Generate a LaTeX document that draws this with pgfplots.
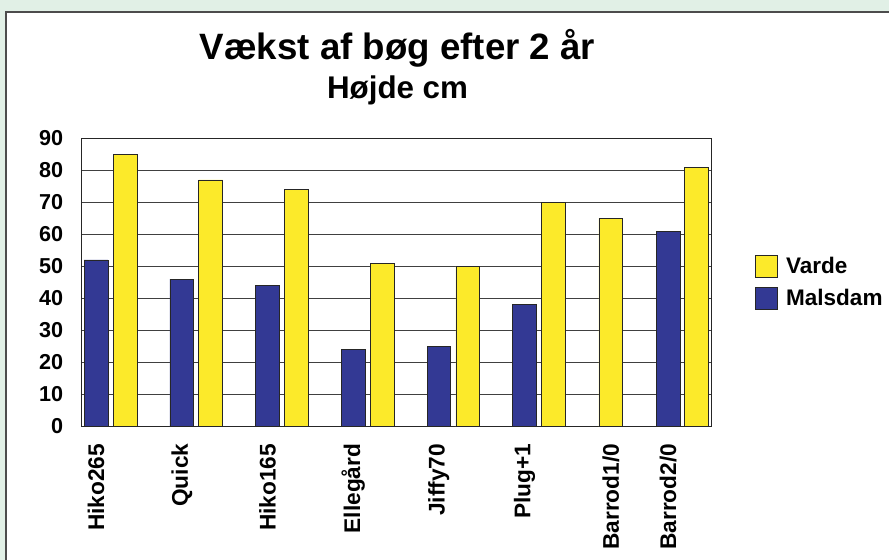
\documentclass[border=0pt]{standalone}
\usepackage{fontspec}
\setmainfont{Liberation Sans}
\usepackage{pgfplots}
\pgfplotsset{compat=1.18}
\definecolor{bggreen}{RGB}{225,240,230}
\definecolor{vyellow}{RGB}{252,234,42}
\definecolor{mblue}{RGB}{51,57,148}
\begin{document}
\begin{tikzpicture}
\clip (0,0) rectangle (666.75pt,420pt);
\fill[bggreen] (0,0) rectangle (666.75pt,420pt);
\filldraw[fill=white, draw=black!70, line width=1pt] (4.5pt,-10pt) rectangle (690pt,411pt);
\begin{axis}[
  at={(61pt,100.1pt)}, anchor=south west,
  scale only axis, width=472.3pt, height=216.2pt,
  xmin=-0.172, xmax=7.176, ymin=0, ymax=90,
  ytick={0,10,...,90},
  xtick={0,1,2,3,4,5,6.006,6.674},
  xticklabels={Hiko265,Quick,Hiko165,Ellegård,Jiffy70,Plug+1,Barrod1/0,Barrod2/0},
  /pgf/number format/assume math mode=true,
  ymajorgrids, major grid style={black!75, line width=0.75pt},
  axis line style={black!85, line width=0.75pt},
  tick style={draw=none},
  yticklabel style={font=\fontsize{16.2}{18}\selectfont\bfseries, anchor=east, inner sep=0pt, xshift=-13.5pt},
  xticklabel style={font=\fontsize{17}{19}\selectfont\bfseries, rotate=90, anchor=east, inner sep=0pt},
  xticklabel shift=12.75pt,
  clip=false,
  legend style={draw=none, fill=none, at={(1.0688,0.5)}, anchor=west, inner sep=0pt,
    font=\fontsize{16.9}{19}\selectfont\bfseries, row sep=6pt,
    /tikz/every odd column/.append style={column sep=4.5pt}},
  legend cell align=left,
  legend image code/.code={\draw[#1] (0pt,-8.25pt) rectangle (16.5pt,8.25pt);},
]
\addplot[ybar, bar width=17.8pt, bar shift=0pt, fill=vyellow, draw=black!85, line width=0.6pt]
  coordinates {(0.338,85) (1.338,77) (2.338,74) (3.338,51) (4.338,50) (5.338,70) (6.006,65) (7.009,81)};
\addlegendentry{Varde}
\addplot[ybar, bar width=17.8pt, bar shift=0pt, fill=mblue, draw=black!85, line width=0.6pt]
  coordinates {(0,52) (1,46) (2,44) (3,24) (4,25) (5,38) (6.674,61)};
\addlegendentry{Malsdam}
\node[anchor=base, yshift=58.7pt, xshift=1pt, font=\fontsize{27.5}{31}\selectfont\bfseries] at (rel axis cs:0.5,1) {Vækst af bøg efter 2 år};
\node[anchor=base, yshift=30pt, xshift=1pt, font=\fontsize{23.5}{27}\selectfont\bfseries] at (rel axis cs:0.5,1) {Højde cm};
\end{axis}
\end{tikzpicture}
\end{document}
